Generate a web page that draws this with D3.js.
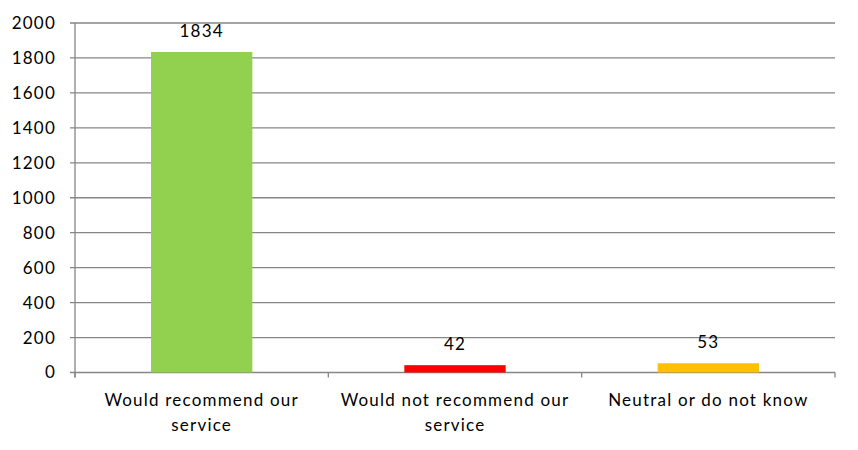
<!DOCTYPE html>
<html><head><meta charset="utf-8">
<script src="https://cdn.jsdelivr.net/npm/d3@7"></script>
<style>body{margin:0;background:#fff}svg{display:block}text{font-family:Lato,"Open Sans",sans-serif;fill:#000}</style>
</head><body><svg id="c" width="858" height="450"></svg>
<script>
const categories = [["Would recommend our","service"],["Would not recommend our","service"],["Neutral or do not know"]];
const values = [1834, 42, 53];
const colors = ["#92D050", "#FF0000", "#FFC000"];
const yTicks = [0,200,400,600,800,1000,1200,1400,1600,1800,2000];

const svg = d3.select("#c");
const L = 75, R = 835, T = 23, B = 372.5;
const x = d3.scaleBand().domain(d3.range(values.length)).range([L, R]).paddingInner(0.6).paddingOuter(0.3);
const y = d3.scaleLinear().domain([0, 2000]).range([B, T]);
const grid = "#868686";
const fs = 17, ls = "1.2px";

svg.append("g").selectAll("line").data(yTicks).join("line")
  .attr("x1", L - 5).attr("x2", R).attr("y1", d => y(d)).attr("y2", d => y(d))
  .attr("stroke", grid).attr("stroke-width", 1.3);
svg.append("g").selectAll("text").data(yTicks).join("text")
  .attr("x", L - 19).attr("y", d => y(d)).attr("dy", "0.35em").attr("text-anchor", "end")
  .attr("font-size", fs).attr("letter-spacing", ls).text(d => d);
svg.append("line").attr("x1", L).attr("x2", L).attr("y1", T).attr("y2", B + 5).attr("stroke", grid).attr("stroke-width", 1.3);
const step = x.step();
const bounds = d3.range(values.length + 1).map(i => L + i * step);
svg.append("g").selectAll("line").data(bounds).join("line")
  .attr("x1", d => d).attr("x2", d => d).attr("y1", B).attr("y2", B + 5)
  .attr("stroke", grid).attr("stroke-width", 1.3);
svg.append("g").selectAll("rect").data(values).join("rect")
  .attr("x", (d, i) => x(i)).attr("width", x.bandwidth())
  .attr("y", d => y(d)).attr("height", d => B - y(d)).attr("fill", (d, i) => colors[i]);
svg.append("g").selectAll("text").data(values).join("text")
  .attr("x", (d, i) => x(i) + x.bandwidth() / 2).attr("y", d => y(d) - 15)
  .attr("text-anchor", "middle").attr("font-size", fs).attr("letter-spacing", ls).text(d => d);
const cl = svg.append("g").selectAll("text").data(categories).join("text")
  .attr("text-anchor", "middle").attr("font-size", fs).attr("letter-spacing", ls)
  .attr("transform", (d, i) => `translate(${x(i) + x.bandwidth() / 2},${B + 33})`);
cl.selectAll("tspan").data(d => d).join("tspan").attr("x", 0).attr("dy", (d, j) => j ? 25 : 0).text(d => d);
</script></body></html>
